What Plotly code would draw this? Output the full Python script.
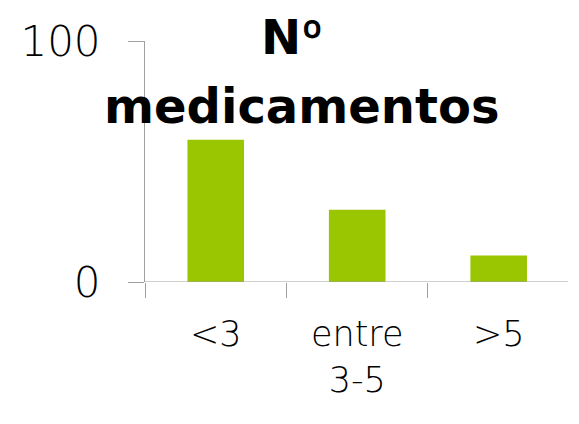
import plotly.graph_objects as go

categories = ["<3", "entre<br>3-5", ">5"]
values = [59, 30, 11]
title_lines = ["N<span style='font-family:Roboto'>º</span>", "medicamentos"]
y_ticks = [0, 100]

# page body has an 8px margin; figure sits at (8, 8)
OFF = 8
W, H = 579 - OFF, 424 - OFF
L, R, T, B = 145 - OFF, 11, 41 - OFF, 142
pw, ph = W - L - R, H - T - B

def px_x(x):
    return (x - OFF - L) / pw

def px_y(y):
    return (H - B - (y - OFF)) / ph

fig = go.Figure(go.Bar(
    x=categories, y=values,
    marker=dict(color="#99c600", line=dict(width=0)),
    width=0.4,
))

fig.update_layout(
    width=W, height=H,
    margin=dict(l=L, r=R, t=T, b=B, autoexpand=False),
    paper_bgcolor="white", plot_bgcolor="white",
    showlegend=False,
    font=dict(family="DejaVu Sans", color="black"),
)

fig.update_xaxes(
    type="category",
    range=[-0.5, 2.49],
    tickson="boundaries",
    ticks="outside", ticklen=15, tickcolor="#a0a0a0", tickwidth=1,
    showline=False, showgrid=False, zeroline=False,
    tickfont=dict(size=35, family="DejaVu Sans", weight=300),
    ticklabelstandoff=28,
)
fig.update_yaxes(
    range=[0, 100],
    tickvals=y_ticks,
    ticks="outside", ticklen=16, tickcolor="#a0a0a0", tickwidth=1,
    showline=True, linecolor="#a0a0a0", linewidth=1,
    showgrid=True, gridcolor="#a0a0a0", griddash="dot", gridwidth=1,
    zeroline=False,
    tickfont=dict(size=42, family="DejaVu Sans", weight=300),
    ticklabelstandoff=19,
)

# baseline line at 0
fig.add_shape(type="line", xref="x domain", yref="y", x0=0, x1=1, y0=0, y1=0,
              line=dict(color="#a0a0a0", width=1))

fig.add_annotation(text="<b>%s</b>" % title_lines[0], xref="paper", yref="paper",
                   x=px_x(292), y=px_y(37), xanchor="center", yanchor="middle",
                   showarrow=False, font=dict(size=48, family="DejaVu Sans", color="black"))
fig.add_annotation(text="<b>%s</b>" % title_lines[1], xref="paper", yref="paper",
                   x=px_x(301), y=px_y(106), xanchor="center", yanchor="middle",
                   showarrow=False, font=dict(size=48, family="DejaVu Sans", color="black"))

fig.write_html("out.html")
